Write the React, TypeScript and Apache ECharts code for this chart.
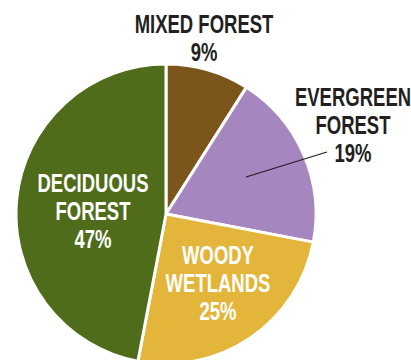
import React, { useEffect, useRef } from "react";
import * as echarts from "echarts";

const categories = ["MIXED FOREST", "EVERGREEN\nFOREST", "WOODY\nWETLANDS", "DECIDUOUS\nFOREST"];
const values = [9, 19, 25, 47];
const colors = ["#7b5519", "#a586bf", "#e4b53b", "#4e6c1a"];
const labelColors = ["#231f20", "#231f20", "#ffffff", "#ffffff"];
// label anchor positions (layout only)
const labelPos: [number, number][] = [
  [204, 38],
  [353, 125],
  [218, 283],
  [93, 211],
];

const FONT = '"Liberation Sans", Arial, sans-serif';
const CENTER: [number, number] = [166, 214];
const RADIUS = 150;

export default function App() {
  const ref = useRef<HTMLDivElement>(null);
  useEffect(() => {
    if (!ref.current) return;
    const chart = echarts.init(ref.current, undefined, { renderer: "svg" });
    const texts = categories.map((c, i) => ({
      type: "text",
      x: labelPos[i][0],
      y: labelPos[i][1],
      scaleX: 0.74,
      z: 100,
      style: {
        x: 0,
        y: 0,
        text: `${c}\n${values[i]}%`,
        fill: labelColors[i],
        font: `bold 25px ${FONT}`,
        lineHeight: 28,
        align: "center",
        verticalAlign: "middle",
      },
    }));
    chart.setOption({
      animation: false,
      backgroundColor: "#ffffff",
      series: [
        {
          type: "pie",
          center: CENTER,
          radius: RADIUS,
          startAngle: 90,
          clockwise: true,
          avoidLabelOverlap: false,
          itemStyle: { borderColor: "#ffffff", borderWidth: 3 },
          label: { show: false },
          labelLine: { show: false },
          data: categories.map((c, i) => ({
            name: c,
            value: values[i],
            itemStyle: { color: colors[i] },
          })),
        },
      ],
      graphic: [
        ...texts,
        {
          type: "line",
          z: 100,
          shape: { x1: 246, y1: 177, x2: 327, y2: 152 },
          style: { stroke: "#231f20", lineWidth: 1.2 },
        },
      ],
    });
    return () => chart.dispose();
  }, []);
  return (
    <div
      ref={ref}
      style={{ position: "fixed", left: 0, top: 0, width: 411, height: 360 }}
    />
  );
}
